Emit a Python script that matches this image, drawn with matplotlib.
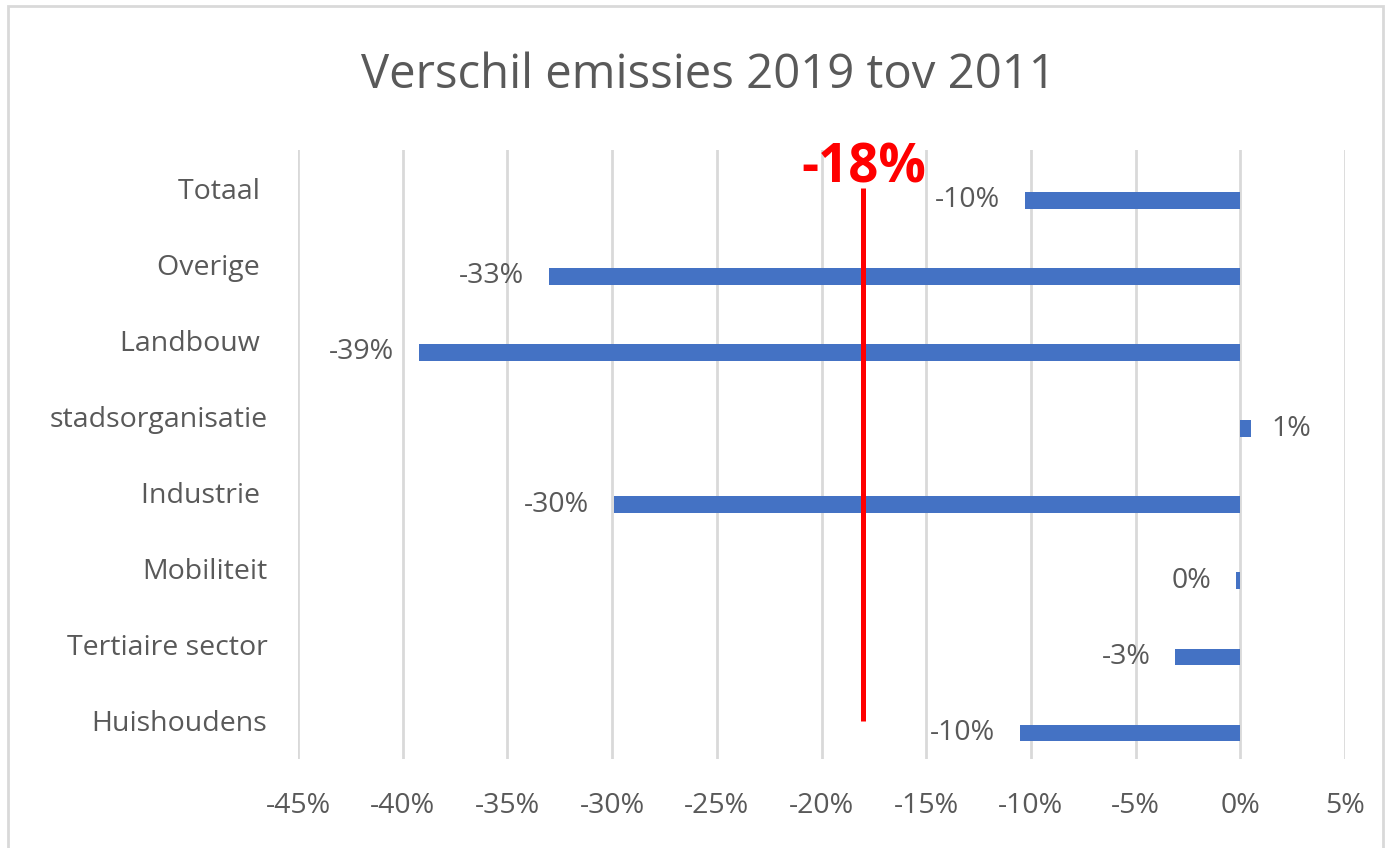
import matplotlib.pyplot as plt
from matplotlib.patches import Rectangle

# data
categories = ["Huishoudens", "Tertiaire sector", "Mobiliteit", "Industrie ",
              "stadsorganisatie", "Landbouw ", "Overige ", "Totaal "]
values = [-10.5, -3.1, -0.2, -29.9, 0.5, -39.2, -33.0, -10.3]
labels = ["-10%", "-3%", "0%", "-30%", "1%", "-39%", "-33%", "-10%"]
average = -18.0
average_label = "-18%"
xticks = list(range(-45, 10, 5))

plt.rcParams['font.family'] = ['Open Sans', 'DejaVu Sans']
grey = '#595959'
fs = 20.5

fig = plt.figure(figsize=(13.91, 8.48), dpi=100)
ax = fig.add_axes([298 / 1391, 1 - 759 / 848, (1345 - 298) / 1391, (759 - 150) / 848])

ypos = list(range(len(categories)))
barpos = [y - 0.16 for y in ypos]
ax.barh(barpos, values, height=0.22, color='#4472C4', zorder=3)

for y, v, lab in zip(barpos, values, labels):
    if v < 0:
        ax.annotate(lab, (v, y), xytext=(-18, 0), textcoords='offset points',
                    ha='right', va='center', fontsize=fs, color=grey)
    else:
        ax.annotate(lab, (v, y), xytext=(15, 0), textcoords='offset points',
                    ha='left', va='center', fontsize=fs, color=grey)

# average line
ax.plot([average, average], [ypos[0], ypos[-1]], color='#FF0000', lw=3.6, zorder=4,
        solid_capstyle='butt')
ax.text(average, ypos[-1] + 0.26, average_label, ha='center', va='center',
        fontsize=38, fontweight='bold', color='#FF0000', zorder=5)

ax.set_xlim(-45, 5)
ax.set_ylim(-0.5, len(categories) - 0.5)
ax.set_xticks(xticks)
ax.set_xticklabels([f"{t}%" for t in xticks], fontsize=fs, color=grey)
ax.set_yticks(ypos)
ax.set_yticklabels(categories, fontsize=fs, color=grey)
ax.tick_params(axis='both', length=0)
ax.tick_params(axis='x', pad=24)
ax.tick_params(axis='y', pad=22)
ax.grid(axis='x', color='#D9D9D9', lw=2, zorder=0)
for s in ax.spines.values():
    s.set_visible(False)

fig.text(708 / 1391, 1 - 75 / 848, "Verschil emissies 2019 tov 2011",
         ha='center', va='center', fontsize=34, color=grey)

# outer frame
fig.patches.append(Rectangle((8 / 1391, -0.01), 1375 / 1391, 1 - 6 / 848 + 0.01,
                             transform=fig.transFigure, fill=False,
                             edgecolor='#D9D9D9', lw=2))

fig.savefig('out.png', dpi=100)
